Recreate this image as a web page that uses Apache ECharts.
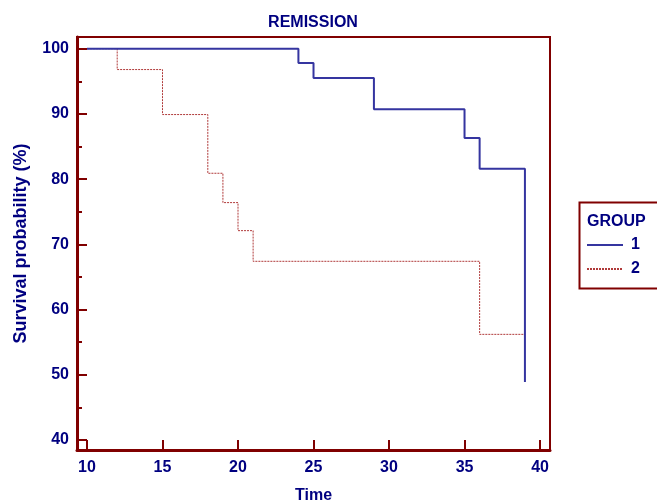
<!DOCTYPE html>
<html>
<head>
<meta charset="utf-8">
<script src="https://cdn.jsdelivr.net/npm/echarts@6/dist/echarts.min.js"></script>
<style>
html,body{margin:0;padding:0;background:#fff;}
#chart{width:657px;height:500px;}
</style>
</head>
<body>
<div id="chart"></div>
<script>
// Data (Kaplan-Meier steps)
var chartTitle = 'REMISSION';
var xName = 'Time';
var yName = 'Survival probability (%)';
var legendTitle = 'GROUP';
var groupNames = ['1', '2'];

var times1 = [10, 24, 25, 29, 35, 36, 39];
var surv1  = [100, 97.8, 95.5, 90.7, 86.3, 81.6, 48.9];

var times2 = [10, 12, 15, 18, 19, 20, 21, 36, 39];
var surv2  = [100, 96.8, 89.9, 80.9, 76.4, 72.1, 67.4, 56.2, 56.2];

var xTicks = [10, 15, 20, 25, 30, 35, 40];
var yTicks = [40, 50, 60, 70, 80, 90, 100];
var yMinorTicks = [45, 55, 65, 75, 85, 95];

function pairs(xs, ys) {
  return xs.map(function (x, i) { return [x, ys[i]]; });
}

var FONT = '"Liberation Sans", Arial, sans-serif';
var NAVY = '#000080';
var FRAME = '#800000';

var chart = echarts.init(document.getElementById('chart'), null, {renderer: 'canvas'});
chart.setOption({
  backgroundColor: '#ffffff',
  animation: false,
  textStyle: {fontFamily: FONT},
  title: {
    text: chartTitle,
    left: 313,
    textAlign: 'center',
    top: 15,
    padding: 0,
    textStyle: {color: NAVY, fontSize: 16, fontWeight: 'bold', fontFamily: FONT}
  },
  grid: {
    left: 77, right: 107, top: 37, bottom: 50,
    show: true,
    borderColor: FRAME,
    borderWidth: 2,
    containLabel: false,
    outerBoundsMode: 'none'
  },
  legend: {
    orient: 'vertical',
    left: 586,
    top: 237,
    padding: 0,
    itemWidth: 36,
    itemHeight: 14,
    itemGap: 8,
    data: groupNames,
    itemStyle: {opacity: 0, color: 'rgba(0,0,0,0)', borderWidth: 0},
    textStyle: {color: NAVY, fontSize: 16, fontWeight: 'bold', fontFamily: FONT, lineHeight: 16, padding: [0, 0, 0, 3]}
  },
  graphic: [
    {
      type: 'rect',
      left: 577, top: 200,
      shape: {width: 110, height: 86},
      style: {fill: 'none', stroke: FRAME, lineWidth: 2},
      silent: true
    },
    {
      type: 'text',
      left: 587, top: 214,
      style: {text: legendTitle, fill: NAVY, font: 'bold 16px ' + FONT},
      silent: true
    }
  ],
  xAxis: {
    type: 'value',
    min: 9.338, max: 40.66,
    name: xName,
    nameLocation: 'middle',
    nameGap: 38,
    nameTextStyle: {color: NAVY, fontSize: 16, fontWeight: 'bold', fontFamily: FONT},
    axisLine: {show: true, onZero: false, lineStyle: {color: FRAME, width: 3}},
    axisTick: {show: true, inside: true, length: 10, customValues: xTicks, lineStyle: {color: FRAME, width: 2}},
    axisLabel: {show: true, customValues: xTicks, margin: 10, color: NAVY, fontSize: 16, fontWeight: 'bold', fontFamily: FONT},
    splitLine: {show: false}
  },
  yAxis: [
    {
      type: 'value',
      position: 'left',
      min: 38.47, max: 101.79,
      name: yName,
      nameLocation: 'middle',
      nameGap: 47,
      nameTextStyle: {color: NAVY, fontSize: 18, fontWeight: 'bold', fontFamily: FONT},
      axisLine: {show: true, onZero: false, lineStyle: {color: FRAME, width: 3}},
      axisTick: {show: true, inside: true, length: 10, customValues: yTicks, lineStyle: {color: FRAME, width: 2}},
      axisLabel: {show: true, customValues: yTicks, margin: 8, color: NAVY, fontSize: 16, fontWeight: 'bold', fontFamily: FONT},
      splitLine: {show: false}
    },
    {
      type: 'value',
      position: 'left',
      offset: 0,
      min: 38.47, max: 101.79,
      axisLine: {show: false},
      axisTick: {show: true, inside: true, length: 5, customValues: yMinorTicks, lineStyle: {color: FRAME, width: 2}},
      axisLabel: {show: false},
      splitLine: {show: false}
    }
  ],
  series: [
    {
      name: groupNames[0],
      type: 'line',
      step: 'end',
      symbol: 'none',
      yAxisIndex: 0,
      data: pairs(times1, surv1),
      lineStyle: {color: '#3535A0', width: 2},
      itemStyle: {color: '#3535A0'},
      z: 3
    },
    {
      name: groupNames[1],
      type: 'line',
      step: 'end',
      symbol: 'none',
      yAxisIndex: 0,
      data: pairs(times2, surv2),
      lineStyle: {color: '#B03A3A', width: 1, type: [2, 1]},
      itemStyle: {color: '#B03A3A'},
      z: 2
    }
  ]
});
</script>
</body>
</html>
